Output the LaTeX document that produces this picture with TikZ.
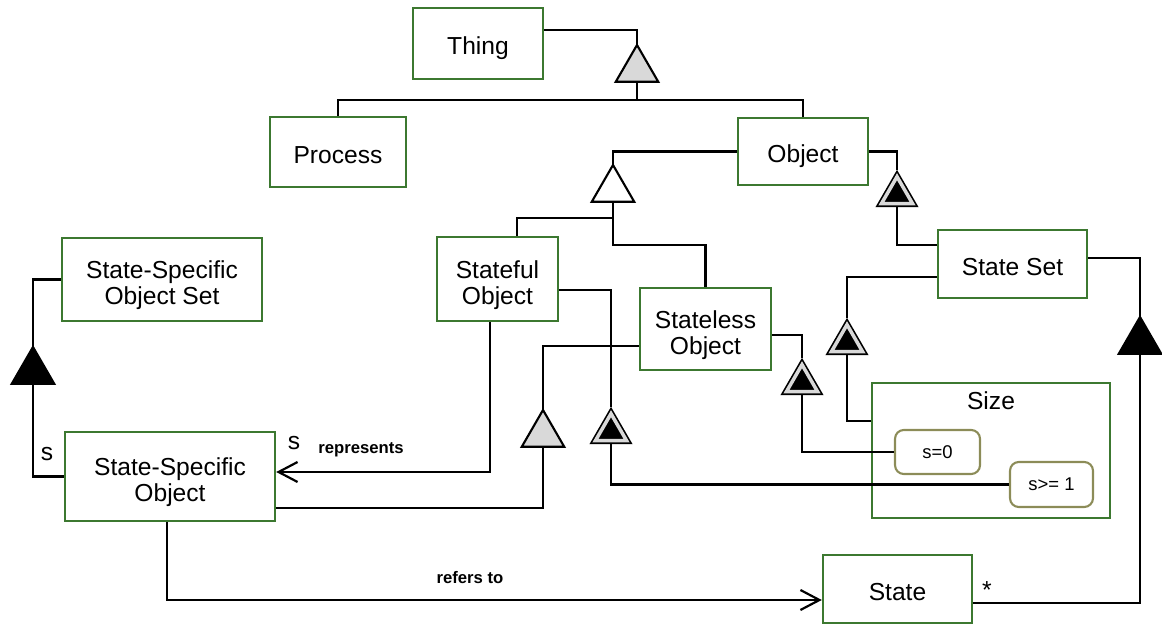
\documentclass[tikz,border=0pt]{standalone}
\usepackage{fontspec}
\setmainfont{Liberation Sans}
\usetikzlibrary{arrows.meta,shapes.geometric}
\definecolor{boxgreen}{RGB}{60,120,48}
\definecolor{valolive}{RGB}{140,140,88}

\begin{document}
\begin{tikzpicture}[x=0.02cm,y=-0.02cm,
  font=\fontsize{14}{15}\selectfont,
  obj/.style={draw=boxgreen,line width=1.4pt,align=center,inner sep=0pt,text height=13pt,text depth=0pt},
  obj2/.style={obj,text height=29pt},
  val/.style={draw=valolive,line width=1.2pt,rounded corners=5pt,inner sep=0pt,font=\fontsize{10.5}{12}\selectfont},
  link/.style={line width=1.25pt},
  tri/.style={regular polygon,regular polygon sides=3,draw,line width=1.2pt,inner sep=0pt,outer sep=0pt,minimum size=0.98cm,anchor=north},
  gtri/.style={tri,fill=gray!30}, wtri/.style={tri,fill=white}, btri/.style={tri,fill=black},
  ctri/.style={tri,fill=black,double=gray!30,double distance=2pt,line width=0.95pt,minimum size=0.72cm,outer sep=1.9pt},
  lbl/.style={font=\bfseries\fontsize{9.5}{11}\selectfont},
  openarr/.style={-{Straight Barb[length=0.38cm,width=0.4cm]}}]
\useasboundingbox (0,0) rectangle (1162,624);
% things
\node[obj,minimum width=2.6cm,minimum height=1.42cm] (thing) at (478,43.5) {Thing};
\node[obj,minimum width=2.72cm,minimum height=1.4cm] (process) at (338,152) {Process};
\node[obj,minimum width=2.6cm,minimum height=1.34cm] (object) at (803,151.5) {Object};
\node[obj,minimum width=2.98cm,minimum height=1.36cm] (stateset) at (1012.5,264) {State Set};
\node[obj2,minimum width=2.42cm,minimum height=1.68cm] (stateful) at (497.5,279) {Stateful\\Object};
\node[obj2,minimum width=2.62cm,minimum height=1.64cm] (stateless) at (705.5,329) {Stateless\\Object};
\node[obj2,minimum width=4cm,minimum height=1.66cm] (ssos) at (162,279.5) {State-Specific\\Object Set};
\node[obj2,minimum width=4.2cm,minimum height=1.78cm] (sso) at (170,476.5) {State-Specific\\Object};
\node[obj,minimum width=4.76cm,minimum height=2.7cm,label={[anchor=north,yshift=-0.08cm]north:Size}] (size) at (991,450.5) {};
\node[val,minimum width=1.7cm,minimum height=0.88cm] (s0) at (937.5,452) {s=0};
\node[val,minimum width=1.66cm,minimum height=0.9cm] (s1) at (1051.5,484.5) {s>= 1};
\node[obj,minimum width=2.98cm,minimum height=1.36cm] (state) at (897.5,589) {State};
% triangles
\node[gtri] (t1) at (637,45) {};
\node[wtri] (t2) at (613,165) {};
\node[ctri] (t3) at (897,170) {};
\node[ctri] (t4) at (847,318) {};
\node[ctri] (t5) at (802,358) {};
\node[ctri] (t6) at (611,407) {};
\node[gtri] (t7) at (543,410) {};
\node[btri] (t8) at (33,347) {};
\node[btri] (t9) at (1140,317) {};
\coordinate (bar1) at (637,100);
\coordinate (bar2) at (613,218);
\coordinate (bar3) at (613,245);
% links
\draw[link] ([yshift=0.27cm]thing.east) -| (t1.north);
\draw[link] (t1.south) -- (bar1);
\draw[link] (process.north) |- (bar1) -| (object.north);
\draw[link] (object.west) -| (t2.north);
\draw[link] (t2.south) -- (bar3) -| (stateless.north);
\draw[link] ([xshift=0.39cm]stateful.north) |- (bar2);
\draw[link] (object.east) -| (t3.north);
\draw[link] (t3.south) |- ([yshift=0.38cm]stateset.west);
\draw[link] ([yshift=-0.26cm]stateset.west) -| (t4.north);
\draw[link] (t4.south) |- ([yshift=0.59cm]size.west);
\draw[link] ([yshift=-0.12cm]stateless.east) -| (t5.north);
\draw[link] (t5.south) |- (s0.west);
\draw[link] ([yshift=-0.22cm]stateful.east) -| (t6.north);
\draw[link] (t6.south) |- (s1.west);
\draw[link] ([yshift=-0.34cm]stateless.west) -| (t7.north);
\draw[link] (t7.south) |- ([yshift=-0.63cm]sso.east);
\draw[link,openarr] ([xshift=-0.15cm]stateful.south) |- ([yshift=0.09cm]sso.east);
\draw[link] (sso.west) -| (t8.south);
\draw[link] (t8.north) |- (ssos.west);
\draw[link,openarr] ([xshift=-0.06cm]sso.south) |- ([yshift=-0.22cm]state.west);
\draw[link] ([yshift=-0.28cm]state.east) -| (t9.south);
\draw[link] (t9.north) |- ([yshift=0.12cm]stateset.east);
% labels
\node (srep) at (294,443) {s};
\node[lbl] (repr) at (361,450) {represents};
\node (sgen) at (47,454) {s};
\node[lbl] (refers) at (470,578) {refers to};
\node (star) at (987,590) {*};
\end{tikzpicture}
\end{document}
